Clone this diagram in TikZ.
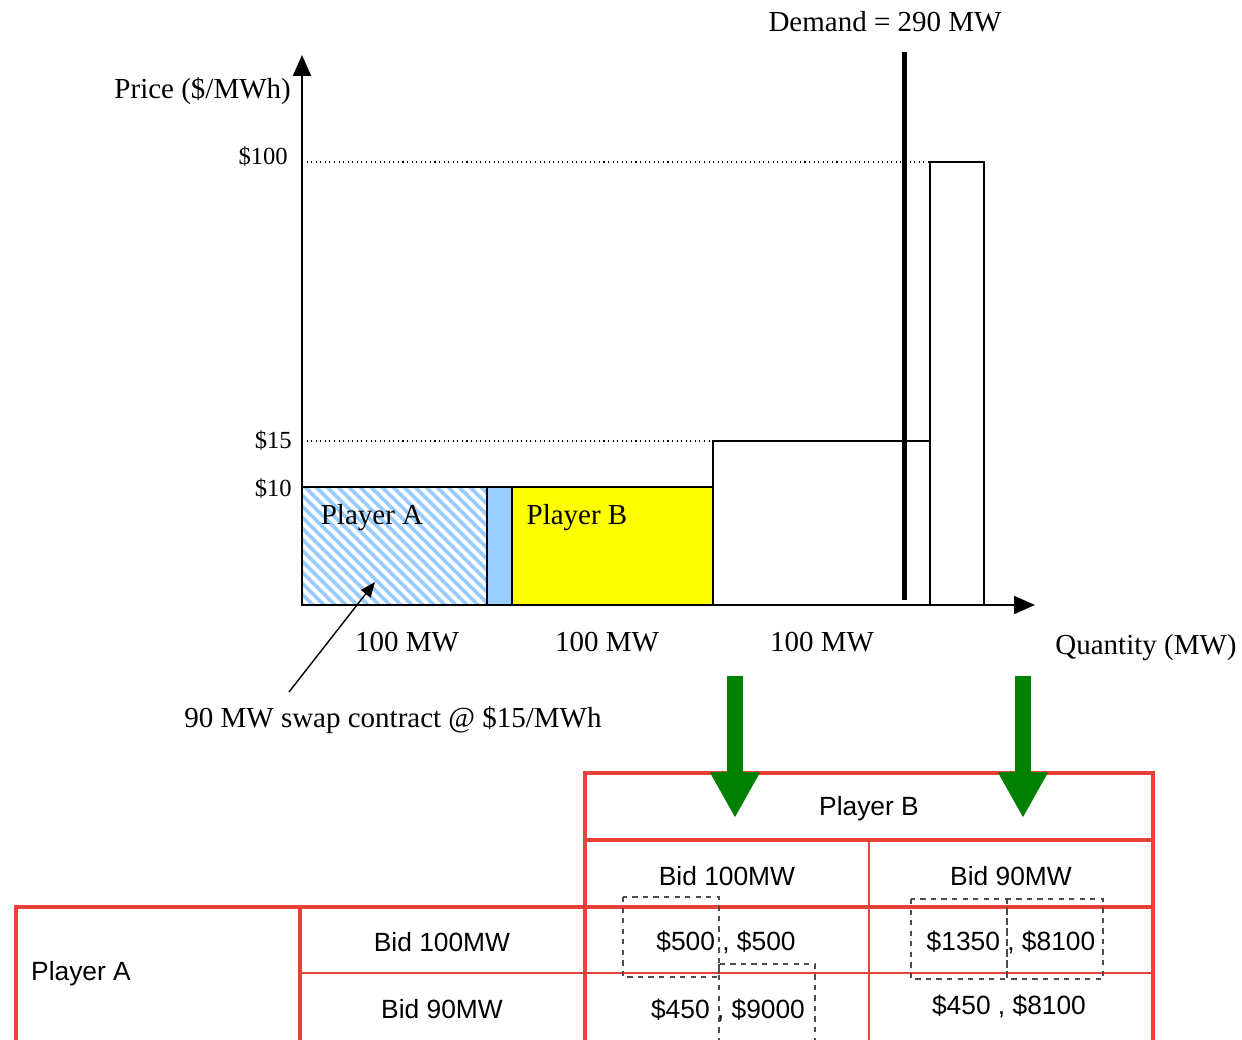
\documentclass[tikz,border=0pt]{standalone}
\usepackage{fontspec}
\setmainfont{Liberation Serif}
\setsansfont{Liberation Sans}
\usepackage{tikz}
\usetikzlibrary{arrows.meta,positioning,calc}
\definecolor{tabred}{HTML}{E8403A}
\definecolor{arrowgreen}{HTML}{008000}
\definecolor{hatchblue}{HTML}{99CCFF}
\definecolor{baryellow}{HTML}{FFFF00}

\begin{document}
\begin{tikzpicture}[x=0.02cm,y=-0.02cm,
		every node/.style={font=\fontsize{16.5}{20}\selectfont},
		tick/.style={font=\fontsize{14}{17}\selectfont, anchor=east},
		axis/.style={line width=1.1pt, -{Triangle[width=0.36cm,length=0.42cm]}},
		bar/.style={draw=black, line width=1.1pt},
		guide/.style={dotted, line width=0.6pt},
		redline/.style={draw=tabred, line width=2.3pt, line cap=rect},
		thinred/.style={draw=tabred, line width=1.2pt},
		cell/.style={font=\sffamily\fontsize{15}{18}\selectfont},
		payoff/.style={draw=black!70, dashed, line width=0.6pt},
		bigarrow/.style={draw=arrowgreen, line width=0.32cm, -{Triangle[width=0.94cm,length=0.92cm]}}]
			\useasboundingbox (0,0) rectangle (1242,1040);
			% guide lines
			\draw[guide] (302,162) -- (930,162);
			\draw[guide] (302,441) -- (713,441);
			% player A hatched block
			\begin{scope}
				\clip (302,487) rectangle (487,605);
				\foreach \s in {173,184,...,495}
					\draw[hatchblue, line width=2.2pt] (\s,487) -- ++(125,125);
			\end{scope}
			\draw[bar] (302,487) rectangle (487,605);
			\filldraw[bar, fill=hatchblue] (487,487) rectangle (512,605);
			\filldraw[bar, fill=baryellow] (512,487) rectangle (713,605);
			\draw[bar] (713,441) rectangle (930,605);
			\draw[bar] (930,162) rectangle (984,605);
			% axes
			\draw[axis] (302,605) -- (302,55);
			\draw[axis] (302,605) -- (1035,605);
			% demand
			\draw[line width=0.1cm] (904,52) -- (904,600);
			\node (demand) at (885,22) {Demand = 290 MW};
			\node[anchor=east] (price) at (297,91) {Price (\$/MWh)};
			\node (qty) at (1146,648) {Quantity (MW)};
			\node[tick] (p100) at (294,157) {\$100};
			\node[tick] (p15) at (298,441) {\$15};
			\node[tick] (p10) at (298,489) {\$10};
			\node (plA) at (372,518) {Player A};
			\node (plB) at (577,518) {Player B};
			\node (mw1) at (407,642) {100 MW};
			\node (mw2) at (607,642) {100 MW};
			\node (mw3) at (822,642) {100 MW};
			\node (swap) at (393,720) {90 MW swap contract @ \$15/MWh};
			\coordinate (swaptail) at (289,692);
			\coordinate (swaphead) at (375,582);
			\draw[line width=0.8pt, -{Triangle[width=0.24cm,length=0.3cm]}] (swaptail) -- (swaphead);
			% payoff table
			\draw[redline] (585,773) -- (1153,773);
			\draw[redline] (585,840) -- (1153,840);
			\draw[redline] (16,907) -- (1153,907);
			\draw[thinred] (300,973) -- (1153,973);
			\draw[redline] (585,773) -- (585,1045);
			\draw[redline] (1153,773) -- (1153,1045);
			\draw[redline] (16,907) -- (16,1045);
			\draw[redline] (300,907) -- (300,1045);
			\draw[thinred] (869,840) -- (869,1045);
			\node[cell] (colB) at (869,809) {Player B};
			\node[cell] (colB1) at (727,876) {Bid 100MW};
			\node[cell] (colB2) at (1011,876) {Bid 90MW};
			\node[cell, anchor=west] (rowA) at (25,974) {Player A};
			\node[cell] (rowA1) at (442,942) {Bid 100MW};
			\node[cell] (rowA2) at (442,1009) {Bid 90MW};
			\node[cell] (pay11) at (726,942) {\$500 , \$500};
			\node[cell] (pay21) at (728,1010) {\$450 , \$9000};
			\node[cell] (pay12) at (1011,942) {\$1350 , \$8100};
			\node[cell] (pay22) at (1009,1006) {\$450 , \$8100};
			\draw[payoff] (623,897) rectangle (719,977);
			\draw[payoff] (719,964) rectangle (815,1045);
			\draw[payoff] (911,899) rectangle (1007,979);
			\draw[payoff] (1007,899) rectangle (1103,979);
			% green arrows
			\coordinate (gL) at (735,676);
			\coordinate (gLend) at (735,818);
			\coordinate (gR) at (1023,676);
			\coordinate (gRend) at (1023,818);
			\draw[bigarrow] (gL) -- (gLend);
			\draw[bigarrow] (gR) -- (gRend);
		\end{tikzpicture}
\end{document}
